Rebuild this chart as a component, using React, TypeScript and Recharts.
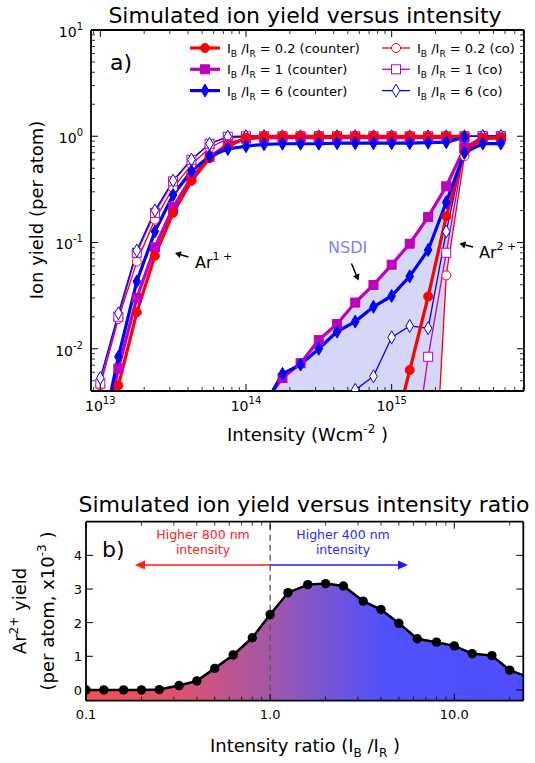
import type { ReactNode } from 'react'
import { Area, ComposedChart, Line, ReferenceLine, XAxis, YAxis } from 'recharts'

const font = 'DejaVu Sans'
const red = '#ff0000'
const magenta = '#bf00bf'
const blue = '#0000ff'

// a) peak intensity (W/cm^2)
const intensity = [
  1.0e13, 1.33e13, 1.78e13, 2.37e13, 3.16e13, 4.22e13, 5.62e13, 7.5e13,
  1.0e14, 1.33e14, 1.78e14, 2.37e14, 3.16e14, 4.22e14, 5.62e14, 7.5e14,
  1.0e15, 1.33e15, 1.78e15, 2.37e15, 3.16e15, 4.22e15, 5.62e15,
]

// Ar1+ yields
const r02CounterAr1 = [0.0007, 0.0045, 0.022, 0.075, 0.19, 0.38, 0.62, 0.8, 0.97, 1.0, 1.0, 1.0, 1.0, 1.0, 1.0, 1.0, 1.0, 1.0, 1.0, 1.0, 1.0, null, null]
const r1CounterAr1 = [0.001, 0.0065, 0.03, 0.09, 0.215, 0.41, 0.64, 0.84, 0.95, 0.97, 0.97, 0.97, 0.97, 0.97, 0.97, 0.97, 0.97, 0.97, 0.97, 0.97, 0.97, null, null]
const r6CounterAr1 = [0.0013, 0.0084, 0.043, 0.127, 0.28, 0.47, 0.65, 0.76, 0.805, 0.84, 0.85, 0.85, 0.85, 0.86, 0.86, 0.86, 0.86, 0.86, 0.87, 0.88, 0.98, null, null]
const r02CoAr1 = [0.0045, 0.019, 0.066, 0.164, 0.326, 0.54, 0.78, 0.95, 1.0, 1.0, 1.0, 1.0, 1.0, 1.0, 1.0, 1.0, 1.0, 1.0, 1.0, 1.0, 1.0, 1.0, 1.0]
const r1CoAr1 = [0.0047, 0.02, 0.08, 0.19, 0.376, 0.6, 0.85, 0.99, 1.0, 1.0, 1.0, 1.0, 1.0, 1.0, 1.0, 1.0, 1.0, 1.0, 1.0, 1.0, 1.0, 1.0, 1.0]
const r6CoAr1 = [0.0053, 0.0216, 0.084, 0.2, 0.382, 0.603, 0.848, 0.99, 1.0, 1.0, 1.0, 1.0, 1.0, 1.0, 1.0, 1.0, 1.0, 1.0, 1.0, 1.0, 1.0, 1.0, 1.0]

// Ar2+ yields
const r02CounterAr2 = [null, null, null, null, null, null, null, null, null, null, null, null, null, null, null, null, 0.0013, 0.0063, 0.031, 0.176, 0.72, 0.95, 0.97]
const r1CounterAr2 = [null, null, null, null, null, null, null, null, null, 0.0031, 0.0053, 0.0073, 0.0121, 0.0171, 0.0272, 0.0398, 0.0618, 0.0974, 0.174, 0.338, 0.777, 0.965, 0.97]
const r6CounterAr2 = [null, null, null, null, null, null, null, null, null, 0.0029, 0.0058, 0.0071, 0.01, 0.0145, 0.018, 0.0248, 0.0314, 0.048, 0.085, 0.239, 0.697, 0.853, 0.853]
const r02CoAr2 = [null, null, null, null, null, null, null, null, null, null, null, null, null, null, null, null, null, null, 0.00004, 0.049, 0.65, 1.0, 1.0]
const r1CoAr2 = [null, null, null, null, null, null, null, null, null, null, null, null, null, null, null, null, null, 0.0005, 0.0084, 0.08, 0.78, 1.0, 1.0]
const r6CoAr2 = [null, null, null, null, null, null, null, null, null, null, null, null, null, 0.0015, 0.0041, 0.0055, 0.0128, 0.0164, 0.0156, 0.127, 0.777, 1.0, 1.0]

const nsdiFloor = 1e-5

const xDomainA = [8.63e12, 8.1e15]
const yDomainA = [0.004, 10]
const xTicksA = [
  9e12, 1e13, 2e13, 3e13, 4e13, 5e13, 6e13, 7e13, 8e13, 9e13,
  1e14, 2e14, 3e14, 4e14, 5e14, 6e14, 7e14, 8e14, 9e14,
  1e15, 2e15, 3e15, 4e15, 5e15, 6e15, 7e15, 8e15,
]
const yTicksA = [
  0.004, 0.005, 0.006, 0.007, 0.008, 0.009,
  0.01, 0.02, 0.03, 0.04, 0.05, 0.06, 0.07, 0.08, 0.09,
  0.1, 0.2, 0.3, 0.4, 0.5, 0.6, 0.7, 0.8, 0.9,
  1, 2, 3, 4, 5, 6, 7, 8, 9, 10,
]

// b) intensity ratio I_B/I_R and Ar2+ yield (x10^-3)
const ratio = [0.1, 0.125, 0.16, 0.2, 0.25, 0.32, 0.4, 0.5, 0.63, 0.8, 1.0, 1.25, 1.6, 2.0, 2.5, 3.2, 4.0, 5.0, 6.3, 8.0, 10, 12.5, 16, 20, 25]
const ar2Yield = [0, 0, 0, 0, 0.01, 0.13, 0.27, 0.64, 1.04, 1.55, 2.24, 2.89, 3.13, 3.16, 3.09, 2.64, 2.39, 1.98, 1.52, 1.42, 1.31, 1.08, 1.02, 0.59, 0.39]

const xDomainB = [0.1, 23.7]
const yDomainB = [-0.32, 5]
const xTicksB = [0.1, 0.2, 0.3, 0.4, 0.5, 0.6, 0.7, 0.8, 0.9, 1, 2, 3, 4, 5, 6, 7, 8, 9, 10, 20]
const xMajorB = [0.1, 1, 10]
const xLabelsB = ['0.1', '1.0', '10.0']
const yTicksB = [0, 1, 2, 3, 4]

type Shape = 'circle' | 'square' | 'diamond'
type Series = { key: string; values: (number | null)[]; color: string; shape: Shape; filled: boolean }

// co series first so the counter markers end up on top
const seriesA: Series[] = [
  { key: 'r02CoAr1', values: r02CoAr1, color: red, shape: 'circle', filled: false },
  { key: 'r02CoAr2', values: r02CoAr2, color: red, shape: 'circle', filled: false },
  { key: 'r1CoAr1', values: r1CoAr1, color: magenta, shape: 'square', filled: false },
  { key: 'r1CoAr2', values: r1CoAr2, color: magenta, shape: 'square', filled: false },
  { key: 'r6CoAr1', values: r6CoAr1, color: blue, shape: 'diamond', filled: false },
  { key: 'r6CoAr2', values: r6CoAr2, color: blue, shape: 'diamond', filled: false },
  { key: 'r1CounterAr1', values: r1CounterAr1, color: magenta, shape: 'square', filled: true },
  { key: 'r1CounterAr2', values: r1CounterAr2, color: magenta, shape: 'square', filled: true },
  { key: 'r02CounterAr1', values: r02CounterAr1, color: red, shape: 'circle', filled: true },
  { key: 'r02CounterAr2', values: r02CounterAr2, color: red, shape: 'circle', filled: true },
  { key: 'r6CounterAr1', values: r6CounterAr1, color: blue, shape: 'diamond', filled: true },
  { key: 'r6CounterAr2', values: r6CounterAr2, color: blue, shape: 'diamond', filled: true },
]

const legendA = [
  { ratio: '0.2', label: 'counter', color: red, shape: 'circle' as Shape, filled: true },
  { ratio: '0.2', label: 'co', color: red, shape: 'circle' as Shape, filled: false },
  { ratio: '1', label: 'counter', color: magenta, shape: 'square' as Shape, filled: true },
  { ratio: '1', label: 'co', color: magenta, shape: 'square' as Shape, filled: false },
  { ratio: '6', label: 'counter', color: blue, shape: 'diamond' as Shape, filled: true },
  { ratio: '6', label: 'co', color: blue, shape: 'diamond' as Shape, filled: false },
]

const tableA = intensity.map((x, i) => {
  const row: Record<string, unknown> = { intensity: x }
  seriesA.forEach((s) => (row[s.key] = s.values[i]))
  const upper = r1CounterAr2[i]
  row.nsdi = upper == null ? null : [r02CoAr2[i] ?? nsdiFloor, upper]
  return row
})

const tableB = ratio.map((r, i) => ({ ratio: r, ar2: ar2Yield[i] }))

function Marker({ x, y, shape, color, filled }: { x: number; y: number; shape: Shape; color: string; filled: boolean }) {
  const fill = filled ? color : '#ffffff'
  if (shape === 'circle') return <circle cx={x} cy={y} r={4.5} fill={fill} stroke={color} strokeWidth={1} />
  if (shape === 'square') return <rect x={x - 4.5} y={y - 4.5} width={9} height={9} fill={fill} stroke={color} strokeWidth={1} />
  return (
    <polygon
      points={`${x},${y - 6.5} ${x + 3.8},${y} ${x},${y + 6.5} ${x - 3.8},${y}`}
      fill={fill}
      stroke={color}
      strokeWidth={1}
    />
  )
}

const dotFor = (shape: Shape, color: string, filled: boolean) => (p: any) => {
  if (p.cx == null || p.cy == null || Number.isNaN(p.cy)) return <g key={p.index} />
  return <Marker key={p.index} x={p.cx} y={p.cy} shape={shape} color={color} filled={filled} />
}

const isDecade = (v: number) => Math.abs(Math.log10(v) - Math.round(Math.log10(v))) < 1e-6

const decadeLabel = (v: number) => (
  <>
    10<tspan dy={-7} fontSize={10}>{Math.round(Math.log10(v))}</tspan>
  </>
)

type Side = 'left' | 'right' | 'top' | 'bottom'

// inward ticks, matplotlib style; labels only on majors
function makeTick(
  side: Side,
  isMajor: (v: number) => boolean,
  label?: (v: number) => ReactNode,
  gap = 0,
  drop = 0,
  fontSize = 14,
) {
  return (props: any) => {
    const { x, y, payload, index } = props
    const v = payload.value
    const major = isMajor(v)
    const len = major ? 7 : 4
    const dx = side === 'left' ? len : side === 'right' ? -len : 0
    const dy = side === 'top' ? len : side === 'bottom' ? -len : 0
    let text: ReactNode = null
    if (label && major) {
      text =
        side === 'left' ? (
          <text x={x - gap} y={y + drop} textAnchor="end" fontFamily={font} fontSize={fontSize} fill="#000">
            {label(v)}
          </text>
        ) : (
          <text x={x} y={y + drop} textAnchor="middle" fontFamily={font} fontSize={fontSize} fill="#000">
            {label(v)}
          </text>
        )
    }
    return (
      <g key={`${side}-${index}`}>
        <line x1={x} y1={y} x2={x + dx} y2={y + dy} stroke="#000" strokeWidth={major ? 1 : 0.8} />
        {text}
      </g>
    )
  }
}

const axisLine = { stroke: '#000', strokeWidth: 1.8 }
const always = () => true

function Arrow({ x1, y1, x2, y2, color, width = 1.5, head = 6, half = 3.5 }: {
  x1: number; y1: number; x2: number; y2: number; color: string; width?: number; head?: number; half?: number
}) {
  const a = Math.atan2(y2 - y1, x2 - x1)
  const bx = x2 - head * Math.cos(a)
  const by = y2 - head * Math.sin(a)
  const px = -Math.sin(a) * half
  const py = Math.cos(a) * half
  return (
    <g>
      <line x1={x1} y1={y1} x2={bx} y2={by} stroke={color} strokeWidth={width} />
      <polygon points={`${x2},${y2} ${bx + px},${by + py} ${bx - px},${by - py}`} fill={color} />
    </g>
  )
}

function RatioText({ x, y, ratio, label }: { x: number; y: number; ratio: string; label: string }) {
  return (
    <text x={x} y={y} fontFamily={font} fontSize={13} fill="#000">
      I<tspan dy={4} fontSize={9}>B</tspan>
      <tspan dy={-4}> /I</tspan>
      <tspan dy={4} fontSize={9}>R</tspan>
      <tspan dy={-4}>{` = ${ratio} (${label})`}</tspan>
    </text>
  )
}

function Overlay() {
  const rows = [48, 69.3, 90.6]
  const cols = [
    { x1: 190, x2: 220, tx: 227 },
    { x1: 382, x2: 410, tx: 417 },
  ]
  return (
    <svg width={535} height={763} style={{ position: 'absolute', left: 0, top: 0, pointerEvents: 'none' }}>
      <text x={305} y={23} textAnchor="middle" fontFamily={font} fontSize={22}>
        Simulated ion yield versus intensity
      </text>
      <text x={110} y={70} fontFamily={font} fontSize={22}>a)</text>
      {legendA.map((e, i) => {
        const c = cols[i % 2]
        const y = rows[Math.floor(i / 2)]
        return (
          <g key={i}>
            <line x1={c.x1} y1={y} x2={c.x2} y2={y} stroke={e.color} strokeWidth={e.filled ? 3.2 : 1.3} />
            <Marker x={(c.x1 + c.x2) / 2} y={y} shape={e.shape} color={e.color} filled={e.filled} />
            <RatioText x={c.tx} y={y + 5} ratio={e.ratio} label={e.label} />
          </g>
        )
      })}
      <Arrow x1={188.5} y1={257} x2={175} y2={253} color="#000" />
      <text x={195} y={268} fontFamily={font} fontSize={16}>
        Ar<tspan dy={-8} fontSize={11}>1 +</tspan>
      </text>
      <Arrow x1={473} y1={247} x2={459.5} y2={243.5} color="#000" />
      <text x={479} y={258} fontFamily={font} fontSize={16}>
        Ar<tspan dy={-8} fontSize={11}>2 +</tspan>
      </text>
      <text x={328} y={253} fontFamily={font} fontSize={16} fill="#7f7fff">NSDI</text>
      <Arrow x1={351.5} y1={263.5} x2={358.5} y2={280.5} color="#000" />
      <text x={307.5} y={441} textAnchor="middle" fontFamily={font} fontSize={18}>
        Intensity (Wcm<tspan dy={-8} fontSize={12}>-2</tspan>
        <tspan dy={8}> )</tspan>
      </text>
      <text x={43} y={210} textAnchor="middle" fontFamily={font} fontSize={18} transform="rotate(-90 43 210)">
        Ion yield (per atom)
      </text>

      <text x={304} y={512} textAnchor="middle" fontFamily={font} fontSize={22}>
        Simulated ion yield versus intensity ratio
      </text>
      <text x={102} y={557} fontFamily={font} fontSize={22}>b)</text>
      <text x={203} y={538.5} textAnchor="middle" fontFamily={font} fontSize={12.5} fill="#ff2020">Higher 800 nm</text>
      <text x={203} y={553.5} textAnchor="middle" fontFamily={font} fontSize={12.5} fill="#ff2020">intensity</text>
      <text x={343} y={538.5} textAnchor="middle" fontFamily={font} fontSize={12.5} fill="#2a2aff">Higher 400 nm</text>
      <text x={343} y={553.5} textAnchor="middle" fontFamily={font} fontSize={12.5} fill="#2a2aff">intensity</text>
      <Arrow x1={270} y1={565} x2={135} y2={565} color="#ff1a1a" width={1.6} head={10} half={4.5} />
      <Arrow x1={270} y1={565} x2={408} y2={565} color="#1a1aff" width={1.6} head={10} half={4.5} />
      <text x={305} y={752} textAnchor="middle" fontFamily={font} fontSize={18}>
        Intensity ratio (I<tspan dy={5} fontSize={12}>B</tspan>
        <tspan dy={-5}> /I</tspan>
        <tspan dy={5} fontSize={12}>R</tspan>
        <tspan dy={-5}> )</tspan>
      </text>
      <text x={26} y={611} textAnchor="middle" fontFamily={font} fontSize={18} transform="rotate(-90 26 611)">
        Ar<tspan dy={-8} fontSize={12}>2+</tspan>
        <tspan dy={8}> yield</tspan>
      </text>
      <text x={54} y={611} textAnchor="middle" fontFamily={font} fontSize={18} transform="rotate(-90 54 611)">
        (per atom, x10<tspan dy={-8} fontSize={12}>-3</tspan>
        <tspan dy={8}> )</tspan>
      </text>
    </svg>
  )
}

function PanelA() {
  return (
    <ComposedChart width={535} height={460} data={tableA} margin={{ top: 29, right: 10, bottom: 39, left: 31 }}>
      <XAxis
        xAxisId="b"
        dataKey="intensity"
        type="number"
        scale="log"
        domain={xDomainA}
        allowDataOverflow
        ticks={xTicksA}
        interval={0}
        height={30}
        tickSize={0}
        tickMargin={0}
        tickLine={false}
        axisLine={axisLine}
        tick={makeTick('bottom', isDecade, decadeLabel, 0, 20)}
      />
      <XAxis
        xAxisId="t"
        orientation="top"
        dataKey="intensity"
        type="number"
        scale="log"
        domain={xDomainA}
        allowDataOverflow
        ticks={xTicksA}
        interval={0}
        height={1}
        tickSize={0}
        tickMargin={0}
        tickLine={false}
        axisLine={axisLine}
        tick={makeTick('top', isDecade)}
      />
      <YAxis
        yAxisId="l"
        type="number"
        scale="log"
        domain={yDomainA}
        allowDataOverflow
        ticks={yTicksA}
        interval={0}
        width={60}
        tickSize={0}
        tickMargin={0}
        tickLine={false}
        axisLine={axisLine}
        tick={makeTick('left', isDecade, decadeLabel, 8, 7)}
      />
      <YAxis
        yAxisId="r"
        orientation="right"
        type="number"
        scale="log"
        domain={yDomainA}
        allowDataOverflow
        ticks={yTicksA}
        interval={0}
        width={1}
        tickSize={0}
        tickMargin={0}
        tickLine={false}
        axisLine={axisLine}
        tick={makeTick('right', isDecade)}
      />
      <Area
        xAxisId="b"
        yAxisId="l"
        dataKey={(d: any) => d.nsdi}
        fill="#d6d6f7"
        fillOpacity={1}
        stroke="none"
        isAnimationActive={false}
      />
      {seriesA.map((s) => (
        <Line
          key={s.key}
          xAxisId="b"
          yAxisId="l"
          dataKey={s.key}
          stroke={s.color}
          strokeWidth={s.filled ? 3.2 : 1.3}
          dot={dotFor(s.shape, s.color, s.filled)}
          activeDot={false}
          isAnimationActive={false}
        />
      ))}
    </ComposedChart>
  )
}

function PanelB() {
  const ratioLabel = (v: number) => xLabelsB[xMajorB.findIndex((m) => Math.abs(m - v) < 1e-9)]
  const isMajorB = (v: number) => xMajorB.some((m) => Math.abs(m - v) < 1e-9)
  return (
    <ComposedChart width={535} height={270} data={tableB} margin={{ top: 50.7, right: 10.7, bottom: 9.3, left: 26 }}>
      <defs>
        <linearGradient id="ratioFill" x1="0" y1="0" x2="1" y2="0">
          <stop offset="0" stopColor="#f85050" />
          <stop offset="0.22" stopColor="#dc5272" />
          <stop offset="0.41" stopColor="#a457a6" />
          <stop offset="0.53" stopColor="#7c55cf" />
          <stop offset="0.68" stopColor="#5050fc" />
          <stop offset="1" stopColor="#4e4efe" />
        </linearGradient>
      </defs>
      <XAxis
        xAxisId="b"
        dataKey="ratio"
        type="number"
        scale="log"
        domain={xDomainB}
        allowDataOverflow
        ticks={xTicksB}
        interval={0}
        height={30}
        tickSize={0}
        tickMargin={0}
        tickLine={false}
        axisLine={axisLine}
        tick={makeTick('bottom', isMajorB, ratioLabel, 0, 18, 13)}
      />
      <XAxis
        xAxisId="t"
        orientation="top"
        dataKey="ratio"
        type="number"
        scale="log"
        domain={xDomainB}
        allowDataOverflow
        ticks={xTicksB}
        interval={0}
        height={1}
        tickSize={0}
        tickMargin={0}
        tickLine={false}
        axisLine={axisLine}
        tick={makeTick('top', isMajorB)}
      />
      <YAxis
        yAxisId="l"
        type="number"
        domain={yDomainB}
        allowDataOverflow
        ticks={yTicksB}
        interval={0}
        width={60}
        tickSize={0}
        tickMargin={0}
        tickLine={false}
        axisLine={axisLine}
        tick={makeTick('left', always, (v) => String(v), 4, 5, 13)}
      />
      <YAxis
        yAxisId="r"
        orientation="right"
        type="number"
        domain={yDomainB}
        allowDataOverflow
        ticks={yTicksB}
        interval={0}
        width={1}
        tickSize={0}
        tickMargin={0}
        tickLine={false}
        axisLine={axisLine}
        tick={makeTick('right', always)}
      />
      <Area
        xAxisId="b"
        yAxisId="l"
        dataKey="ar2"
        baseValue="dataMin"
        fill="url(#ratioFill)"
        fillOpacity={1}
        stroke="none"
        isAnimationActive={false}
      />
      <ReferenceLine xAxisId="b" yAxisId="l" x={1} stroke="#555" strokeDasharray="6 4" strokeWidth={1.3} />
      <Line
        xAxisId="b"
        yAxisId="l"
        dataKey="ar2"
        stroke="#000"
        strokeWidth={2.5}
        dot={(p: any) => <circle key={p.index} cx={p.cx} cy={p.cy} r={4.7} fill="#000" />}
        activeDot={false}
        isAnimationActive={false}
      />
    </ComposedChart>
  )
}

export default function App() {
  return (
    <div style={{ position: 'relative', width: 535, height: 763, background: '#fff', fontFamily: font }}>
      <style>{'body { margin: 0; }'}</style>
      <div style={{ position: 'absolute', left: 0, top: 0 }}>
        <PanelA />
      </div>
      <div style={{ position: 'absolute', left: 0, top: 470 }}>
        <PanelB />
      </div>
      <Overlay />
    </div>
  )
}
